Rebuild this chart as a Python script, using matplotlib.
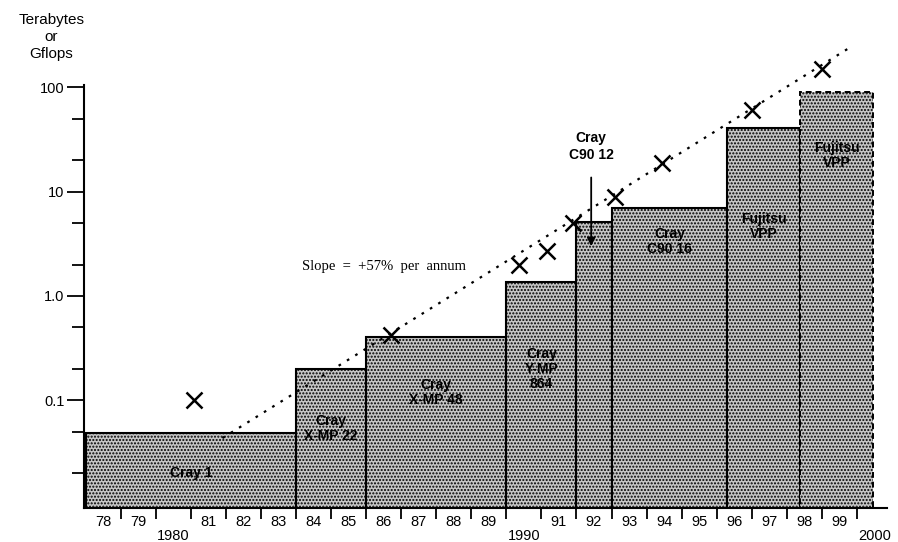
import matplotlib.pyplot as plt
import numpy as np

plt.rcParams['font.family'] = ['Liberation Sans', 'DejaVu Sans']
plt.rcParams['hatch.color'] = '#2a2a2a'
plt.rcParams['hatch.linewidth'] = 1.0

# machines shown as bars (years on the x axis, peak value on a log scale)
bar_names = ["Cray 1", "Cray\nX-MP 22", "Cray\nX-MP 48", "Cray\nY-MP\n864",
             "", "Cray\nC90 16", "Fujitsu\nVPP", "Fujitsu\nVPP"]
bar_start = [1978.0, 1984.0, 1986.0, 1990.0, 1992.0, 1993.0, 1996.3, 1998.38]
bar_end = [1984.0, 1986.0, 1990.0, 1992.0, 1993.0, 1996.3, 1998.38, 2000.46]
bar_value = [0.0475, 0.2, 0.40, 1.36, 5.1, 7.0, 40.8, 90.3]
bar_label_y = [0.020, 0.054, 0.12, 0.2, None, 3.3, 4.6, 22]

# the crosses
cross_year = [1981.1, 1986.7, 1990.35, 1991.15, 1991.9, 1993.1, 1994.45, 1997.0, 1999.0]
cross_value = [0.1, 0.42, 1.98, 2.7, 5.0, 8.9, 18.8, 60.0, 150.0]

# trend line, +57% per annum
trend_year = [1981.9, 1999.8]
trend_value = [0.0435, 240.0]

year_labels = ["78", "79", "1980", "81", "82", "83", "84", "85", "86", "87", "88",
               "89", "1990", "91", "92", "93", "94", "95", "96", "97", "98", "99", "2000"]

fig = plt.figure(figsize=(8.98, 5.42), dpi=100)
ax = fig.add_axes([0.0935, 0.0627, 0.8943, 0.7805])

for i in range(len(bar_value)):
    w = bar_end[i] - bar_start[i]
    if i == len(bar_value) - 1:
        ax.bar(bar_start[i], bar_value[i], width=w, align='edge', bottom=0.001,
               facecolor='#c6c6c6', edgecolor='black', hatch='.....',
               linewidth=1.4, linestyle=(0, (3, 2)), zorder=2)
    else:
        ax.bar(bar_start[i], bar_value[i], width=w, align='edge', bottom=0.001,
               facecolor='#c6c6c6', edgecolor='black', hatch='.....',
               linewidth=1.5, zorder=2)
    if bar_names[i]:
        ax.text((bar_start[i] + bar_end[i]) / 2, bar_label_y[i], bar_names[i],
                ha='center', va='center', fontsize=10, fontweight='bold',
                linespacing=1.1, zorder=4)

ax.plot(trend_year, trend_value, color='black', lw=1.6,
        linestyle=(0, (1.2, 3.2)), clip_on=False, zorder=3)
ax.plot(cross_year, cross_value, linestyle='none', marker='x', color='black',
        markersize=11, markeredgewidth=1.8, clip_on=False, zorder=5)

ax.text(1986.5, 1.9, "Slope  =  +57%  per  annum", family='Liberation Serif',
        fontsize=10.5, ha='center', va='center')

ax.annotate("Cray\nC90 12", xy=(1992.42, 3.0), xytext=(1992.42, 27),
            ha='center', va='center', fontsize=10, fontweight='bold',
            linespacing=1.3,
            arrowprops=dict(arrowstyle='-|>', color='black', lw=1.3,
                            shrinkA=9, shrinkB=0, mutation_scale=12),
            zorder=6)

ax.set_yscale('log')
ax.set_ylim(0.0093, 105)
ax.set_xlim(1977.95, 2000.86)

ax.set_yticks([0.1, 1, 10, 100])
ax.set_yticklabels(["0.1", "1.0", "10", "100"], fontsize=10.5)
ax.set_yticks([0.02, 0.05, 0.2, 0.5, 2, 5, 20, 50], minor=True)
ax.yaxis.set_minor_formatter(plt.NullFormatter())
ax.tick_params(axis='y', which='major', length=12, width=1.3, pad=2)
ax.tick_params(axis='y', which='minor', length=9, width=1.3)

ax.set_xticks(np.arange(1979, 2001))
ax.set_xticklabels([])
ax.tick_params(axis='x', which='major', length=8, width=1.3)
for k, lab in enumerate(year_labels):
    low = len(lab) == 4
    ax.annotate(lab, xy=(1978.5 + k, 0), xycoords=('data', 'axes fraction'),
                xytext=(0, -20 if low else -10), textcoords='offset points',
                ha='center', va='center', fontsize=10.5, annotation_clip=False)

for s in ['top', 'right']:
    ax.spines[s].set_visible(False)
ax.spines['left'].set_linewidth(1.5)
ax.spines['bottom'].set_linewidth(1.5)

fig.text(0.057, 0.932, "Terabytes\nor\nGflops", ha='center', va='center',
         fontsize=11, linespacing=1.3)

plt.savefig('out.png', dpi=100)
